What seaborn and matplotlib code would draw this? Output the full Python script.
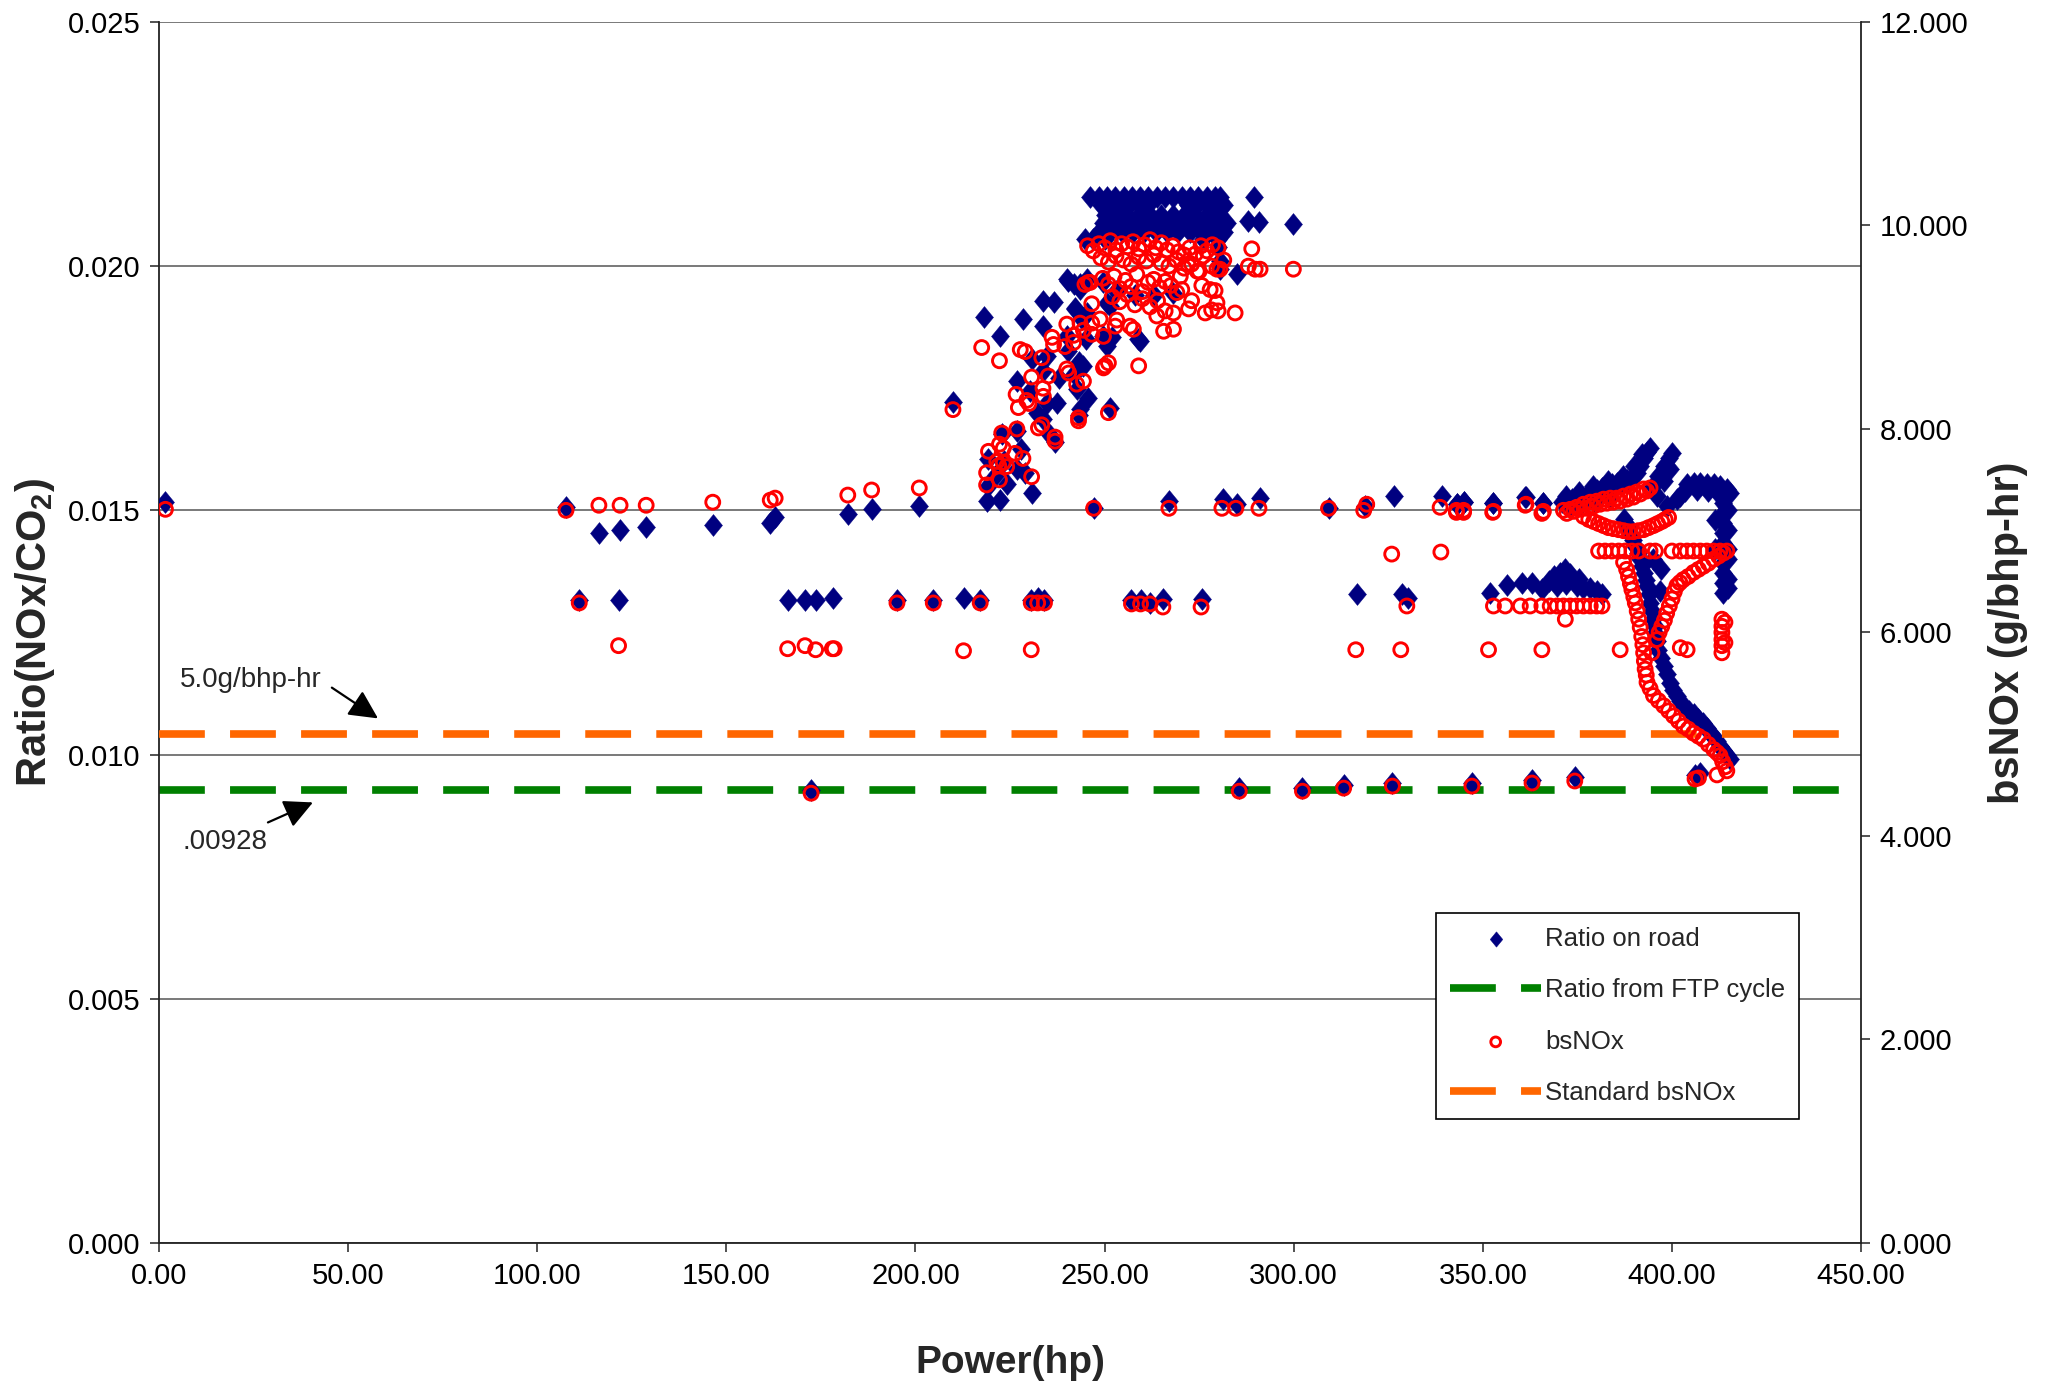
import numpy as np
import pandas as pd
import matplotlib
matplotlib.use("Agg")
import matplotlib.pyplot as plt
from matplotlib.path import Path
import seaborn as sns

# ---------------------------------------------------------------
# NOx/CO2 ratio measured on road (left axis), grouped by region
# (power in hp, ratio)
# ---------------------------------------------------------------
road_low = [
    (1.7, 0.01517), (107.6, 0.01507), (111.1, 0.01316), (116.3, 0.01454),
    (121.9, 0.01460), (121.5, 0.01316), (128.8, 0.01465), (146.4, 0.01470),
    (161.6, 0.01475), (162.9, 0.01487), (166.2, 0.01316), (170.8, 0.01316),
    (173.6, 0.01316), (178.3, 0.01321), (182.1, 0.01492), (188.4, 0.01502),
    (195.1, 0.01316), (201.0, 0.01508), (204.7, 0.01316), (209.9, 0.01722),
    (212.7, 0.01321), (217.1, 0.01316), (230.6, 0.01316), (232.3, 0.01321),
    (234.1, 0.01316), (257.1, 0.01316), (259.5, 0.01316), (262.0, 0.01311),
    (265.4, 0.01318), (275.7, 0.01318), (316.7, 0.01328), (328.6, 0.01328),
    (330.3, 0.01321),
]
road_line15 = [
    (247.1, 0.01505), (267.1, 0.01519), (281.4, 0.01523), (284.9, 0.01512),
    (291.1, 0.01526), (309.2, 0.01505), (318.9, 0.01508), (326.4, 0.01529),
    (339.2, 0.01529), (343.1, 0.01512), (344.9, 0.01517), (352.8, 0.01516),
    (361.2, 0.01527), (365.9, 0.01516),
]
road_near_ftp = [
    (172.4, 0.00928), (285.6, 0.00932), (302.3, 0.00931), (313.2, 0.00938),
    (326.1, 0.00942), (347.1, 0.00942), (363.0, 0.00948), (374.3, 0.00953),
    (406.1, 0.00958), (407.3, 0.00962),
]
road_rise = [
    (219.0, 0.01519), (222.4, 0.01522), (230.7, 0.01536), (219.3, 0.01550),
    (224.1, 0.01553), (219.3, 0.01605), (226.8, 0.01584), (229.0, 0.01577),
    (221.0, 0.01570), (223.5, 0.01600), (222.8, 0.01656), (226.8, 0.01663),
    (233.8, 0.01687), (236.9, 0.01639), (243.5, 0.01707), (251.5, 0.01710),
    (243.1, 0.01695), (226.8, 0.01765), (230.3, 0.01745), (233.8, 0.01786),
    (243.1, 0.01803), (244.4, 0.01796), (250.6, 0.01837), (259.4, 0.01847),
    (222.4, 0.01857), (218.0, 0.01895), (228.5, 0.01891), (233.8, 0.01878),
    (240.0, 0.01857), (244.0, 0.01891), (230.7, 0.01809), (234.7, 0.01816),
    (240.4, 0.01827), (233.8, 0.01929), (236.5, 0.01926), (242.2, 0.01912),
    (240.4, 0.01970), (243.5, 0.01963), (245.3, 0.01974), (249.7, 0.01967),
    (234.7, 0.01720), (237.4, 0.01720), (242.6, 0.01748), (241.8, 0.01780),
    (238.0, 0.01770), (245.7, 0.01730), (232.0, 0.01700), (235.5, 0.01655),
    (228.0, 0.01625), (245.0, 0.01850), (249.7, 0.01857), (251.9, 0.01854),
    (258.9, 0.01851), (250.6, 0.01925), (251.5, 0.01919), (245.3, 0.01905),
    (242.2, 0.01915), (253.0, 0.01950), (258.0, 0.01940), (263.0, 0.01940),
    (268.2, 0.01946), (240.0, 0.01973), (241.8, 0.01963), (243.5, 0.01953),
]
road_top = [
    # 0.0214 row
    (246.2, 0.02141), (248.4, 0.02141), (250.6, 0.02141), (252.8, 0.02141),
    (255.0, 0.02141), (257.2, 0.02141), (259.4, 0.02141), (261.6, 0.02141),
    (263.8, 0.02141), (266.0, 0.02141), (268.2, 0.02141), (270.4, 0.02141),
    (272.6, 0.02141), (274.8, 0.02141), (277.0, 0.02141), (279.2, 0.02141),
    (280.5, 0.02141), (289.4, 0.02141),
    # 0.0212 row
    (249.0, 0.02125), (251.5, 0.02125), (254.0, 0.02125), (256.5, 0.02125),
    (259.0, 0.02125), (261.5, 0.02125), (272.0, 0.02125), (274.5, 0.02125),
    (277.0, 0.02125), (279.5, 0.02125), (281.5, 0.02125),
    # 0.0210 row
    (250.0, 0.02105), (253.0, 0.02105), (256.0, 0.02105), (259.0, 0.02105),
    (262.0, 0.02105), (265.0, 0.02105), (268.0, 0.02105), (271.0, 0.02105),
    (274.0, 0.02105), (277.0, 0.02105), (280.0, 0.02105),
    # 0.0209 row
    (249.5, 0.02088), (252.5, 0.02088), (255.5, 0.02088), (258.5, 0.02088),
    (261.5, 0.02088), (264.5, 0.02088), (267.5, 0.02088), (270.5, 0.02088),
    (273.5, 0.02088), (276.5, 0.02088), (279.5, 0.02088), (282.3, 0.02088),
    (288.0, 0.02093), (290.7, 0.02090), (299.9, 0.02086),
    # 0.0207 row
    (248.5, 0.02070), (251.5, 0.02070), (254.5, 0.02070), (257.5, 0.02070),
    (260.5, 0.02070), (263.5, 0.02070), (266.5, 0.02070), (269.5, 0.02070),
    (272.5, 0.02070), (275.5, 0.02070), (278.5, 0.02070), (281.5, 0.02070),
    # lower edge of the block
    (244.8, 0.02055), (247.0, 0.02055), (250.0, 0.02055), (276.0, 0.02055),
    (280.0, 0.02055), (280.1, 0.02040), (280.5, 0.02010), (280.5, 0.01994),
    (284.9, 0.01984),
]
road_right = [
    # plateau rising to the first peak
    (343.1, 0.01512), (344.9, 0.01517), (352.8, 0.01516), (361.4, 0.01527),
    (366.0, 0.01516), (370.9, 0.01517), (372.2, 0.01519), (373.5, 0.01523),
    (374.8, 0.01525), (376.2, 0.01528), (377.5, 0.01532), (378.8, 0.01536),
    (380.1, 0.01542), (381.5, 0.01546), (382.8, 0.01550), (384.1, 0.01553),
    (385.4, 0.01555), (386.7, 0.01558), (388.1, 0.01562), (389.4, 0.01567),
    (390.7, 0.01576), (391.6, 0.01591), (392.5, 0.01608), (393.4, 0.01620),
    (394.1, 0.01628), (372.0, 0.01530), (375.5, 0.01537), (379.0, 0.01550),
    (383.0, 0.01560), (387.0, 0.01570), (390.0, 0.01590), (392.0, 0.01615),
    (373.0, 0.01509), (376.0, 0.01513), (379.5, 0.01520), (383.5, 0.01527),
    # second peak
    (395.1, 0.01550), (396.4, 0.01570), (397.8, 0.01591), (399.1, 0.01608),
    (400.0, 0.01618), (398.6, 0.01509), (401.3, 0.01523), (396.0, 0.01530),
    (398.0, 0.01560), (399.5, 0.01585),
    # plateau at 0.0155
    (402.2, 0.01529), (404.0, 0.01553), (405.7, 0.01557), (407.5, 0.01555),
    (409.2, 0.01553), (411.0, 0.01553), (412.7, 0.01550), (414.5, 0.01543),
    (415.4, 0.01536), (403.5, 0.01540), (406.5, 0.01542), (409.5, 0.01540),
    (412.0, 0.01538),
    # vertical band at full load
    (413.6, 0.01516), (413.6, 0.01495), (413.6, 0.01475), (413.6, 0.01454),
    (413.6, 0.01434), (413.6, 0.01413), (413.6, 0.01393), (413.6, 0.01372),
    (413.6, 0.01352), (413.6, 0.01331), (414.8, 0.01500), (414.8, 0.01460),
    (414.8, 0.01420), (414.8, 0.01400), (414.8, 0.01360), (414.8, 0.01340),
    (411.5, 0.01480), (411.5, 0.01420),
    # descending branch
    (387.2, 0.01482), (389.0, 0.01454), (390.3, 0.01427), (391.6, 0.01400),
    (392.5, 0.01372), (393.4, 0.01345), (394.2, 0.01311), (395.1, 0.01277),
    (395.6, 0.01249), (396.4, 0.01215), (397.8, 0.01181), (399.5, 0.01147),
    (401.3, 0.01120), (403.0, 0.01099), (405.7, 0.01082), (408.3, 0.01065),
    (410.1, 0.01044), (411.9, 0.01027), (413.6, 0.01010), (415.4, 0.00990),
    (388.4, 0.01468), (389.7, 0.01440), (391.0, 0.01413), (392.1, 0.01386),
    (393.0, 0.01358), (393.8, 0.01328), (394.7, 0.01294), (395.4, 0.01263),
    (396.0, 0.01232), (397.1, 0.01198), (398.6, 0.01164), (400.4, 0.01133),
    (402.2, 0.01110), (404.4, 0.01090), (407.0, 0.01073), (409.2, 0.01055),
    (411.0, 0.01036), (412.8, 0.01018), (414.5, 0.01000),
    (396.9, 0.01335), (395.0, 0.01400), (397.0, 0.01380),
    # cluster near 0.0134
    (351.9, 0.01331), (356.3, 0.01348), (360.3, 0.01352), (363.0, 0.01352),
    (365.6, 0.01338), (367.4, 0.01355), (368.7, 0.01365), (370.4, 0.01372),
    (371.8, 0.01379), (373.1, 0.01369), (374.8, 0.01345), (376.6, 0.01342),
    (378.4, 0.01342), (380.1, 0.01335), (381.5, 0.01328), (369.5, 0.01345),
    (372.0, 0.01350), (375.5, 0.01360),
]

# ---------------------------------------------------------------
# Brake-specific NOx (right axis, g/bhp-hr), grouped by region
# ---------------------------------------------------------------
bs_low = [
    (1.7, 7.21), (107.6, 7.20), (111.1, 6.29), (116.3, 7.25), (121.9, 7.25),
    (121.5, 5.87), (128.8, 7.25), (146.4, 7.28), (161.6, 7.30), (162.9, 7.32),
    (166.2, 5.84), (170.8, 5.87), (173.6, 5.83), (178.0, 5.84), (178.5, 5.84),
    (182.1, 7.35), (188.4, 7.40), (195.1, 6.29), (201.0, 7.42), (204.7, 6.29),
    (209.9, 8.19), (212.7, 5.82), (217.1, 6.29), (230.6, 6.29), (232.3, 6.29),
    (234.1, 6.29), (230.6, 5.83), (257.1, 6.28), (259.5, 6.28), (262.0, 6.28),
    (265.4, 6.25), (275.5, 6.25), (329.9, 6.26), (316.4, 5.83), (328.3, 5.83),
    (351.5, 5.83), (365.6, 5.83),
]
bs_line15 = [
    (247.1, 7.22), (267.0, 7.22), (281.0, 7.22), (284.7, 7.22), (290.8, 7.22),
    (309.2, 7.22), (318.5, 7.20), (319.3, 7.26), (325.9, 6.77), (338.7, 7.23),
    (338.9, 6.79), (343.0, 7.18), (344.9, 7.18), (352.6, 7.18), (361.2, 7.25),
    (365.6, 7.17),
]
bs_near_ftp = [
    (172.4, 4.42), (285.6, 4.44), (302.3, 4.44), (313.2, 4.47), (326.1, 4.49),
    (347.1, 4.49), (363.0, 4.52), (374.3, 4.54), (406.1, 4.56), (407.0, 4.57),
    (411.9, 4.60),
]
bs_rise = [
    (217.5, 8.80), (222.2, 8.67), (227.7, 8.78), (229.0, 8.76), (233.4, 8.70),
    (236.5, 8.83), (236.1, 8.90), (239.5, 8.81), (241.8, 8.92), (230.7, 8.51),
    (235.1, 8.52), (233.7, 8.40), (233.8, 8.32), (226.6, 8.34), (227.2, 8.21),
    (229.4, 8.28), (230.0, 8.25), (240.0, 8.59), (240.5, 8.55), (242.6, 8.44),
    (244.4, 8.47), (249.7, 8.60), (251.0, 8.65), (259.0, 8.62), (243.1, 8.11),
    (243.1, 8.08), (251.0, 8.16), (232.5, 8.01), (233.4, 8.04), (236.9, 7.92),
    (236.9, 7.88), (222.8, 7.96), (226.8, 8.00), (219.3, 7.78), (222.2, 7.85),
    (223.2, 7.81), (226.3, 7.76), (228.4, 7.71), (218.8, 7.57), (218.8, 7.45),
    (222.0, 7.64), (223.2, 7.67), (224.1, 7.63), (222.2, 7.50), (230.7, 7.53),
    (221.5, 7.68),
]
bs_upper = [
    (240.0, 9.03), (243.5, 9.04), (246.6, 9.04), (248.8, 9.08), (244.8, 9.42),
    (246.2, 9.44), (241.8, 8.85), (244.4, 8.97), (246.6, 8.93), (249.7, 8.91),
    (250.1, 8.62), (253.2, 9.07), (252.8, 9.01), (256.7, 9.01), (257.6, 8.98),
    (263.8, 9.11), (266.0, 9.16), (268.2, 9.14), (268.2, 8.98), (265.6, 8.96),
    (272.2, 9.18), (273.0, 9.26), (276.6, 9.14), (278.3, 9.17), (280.0, 9.16),
    (279.7, 9.24), (284.5, 9.14), (275.7, 9.41), (277.9, 9.37), (279.2, 9.36),
    (270.4, 9.37), (269.1, 9.34), (288.9, 9.77), (288.0, 9.60), (289.8, 9.57),
    (291.1, 9.57), (299.9, 9.57), (245.7, 9.44), (246.6, 9.23),
]
bs_top = [
    # band near 9.8
    (245.5, 9.80), (247.0, 9.75), (248.5, 9.82), (250.0, 9.78), (251.5, 9.85),
    (253.0, 9.76), (254.5, 9.82), (256.0, 9.79), (257.5, 9.84), (259.0, 9.77),
    (260.5, 9.81), (262.0, 9.86), (263.5, 9.78), (265.0, 9.83), (266.5, 9.76),
    (268.0, 9.80), (269.5, 9.74), (271.0, 9.71), (272.5, 9.78), (274.0, 9.72),
    (275.5, 9.80), (277.0, 9.75), (278.5, 9.81), (280.0, 9.78),
    # band near 9.65
    (249.0, 9.68), (251.0, 9.64), (253.0, 9.70), (255.0, 9.66), (257.0, 9.62),
    (259.0, 9.69), (261.0, 9.65), (263.0, 9.71), (265.0, 9.63), (267.0, 9.60),
    (269.0, 9.66), (271.0, 9.58), (273.0, 9.62), (275.0, 9.55),
    # band near 9.45
    (249.5, 9.48), (251.0, 9.42), (252.5, 9.50), (254.0, 9.38), (255.5, 9.46),
    (257.0, 9.40), (258.5, 9.52), (260.0, 9.35), (261.5, 9.44), (263.0, 9.47),
    (264.5, 9.39), (266.0, 9.45), (267.5, 9.41),
    (252.0, 9.30), (254.0, 9.25), (256.0, 9.32), (258.0, 9.22), (260.0, 9.28),
    (262.0, 9.20), (264.0, 9.26),
    # right edge of the block
    (272.0, 9.62), (274.5, 9.55), (276.1, 9.70), (278.3, 9.60), (279.7, 9.57),
    (280.5, 9.57), (281.5, 9.66), (270.0, 9.50),
]
bs_right = [
    # upper branch
    (343.0, 7.20), (344.9, 7.20), (352.8, 7.19), (361.4, 7.26), (366.0, 7.19),
    (371.3, 7.20), (373.1, 7.21), (374.8, 7.23), (376.6, 7.26), (378.4, 7.28),
    (380.1, 7.29), (381.9, 7.31), (383.7, 7.32), (385.4, 7.32), (387.2, 7.34),
    (389.0, 7.36), (390.7, 7.38), (392.5, 7.41), (394.2, 7.42),
    (372.2, 7.17), (374.0, 7.19), (375.7, 7.21), (377.5, 7.22), (379.2, 7.24),
    (381.0, 7.26), (382.8, 7.27), (384.5, 7.28), (386.3, 7.29), (388.1, 7.31),
    (389.8, 7.33), (391.6, 7.36), (393.3, 7.39),
    # lower branch of the loop
    (376.6, 7.14), (379.3, 7.09), (381.9, 7.05), (384.5, 7.02), (387.2, 7.00),
    (389.8, 6.99), (392.5, 7.01), (395.1, 7.05), (397.3, 7.09), (399.1, 7.13),
    (378.0, 7.11), (380.6, 7.07), (383.2, 7.03), (385.9, 7.01), (388.5, 6.99),
    (391.1, 7.00), (393.8, 7.03), (396.2, 7.07), (398.2, 7.11),
    # row near 6.8
    (380.6, 6.80), (382.3, 6.80), (384.1, 6.80), (385.9, 6.80), (387.6, 6.80),
    (389.4, 6.80), (391.2, 6.80), (394.2, 6.80), (395.6, 6.80), (400.0, 6.80),
    (402.2, 6.80), (404.0, 6.80), (405.7, 6.80), (407.5, 6.80), (409.2, 6.80),
    (411.0, 6.80), (412.7, 6.80), (414.5, 6.80),
    # descending band
    (387.2, 6.69), (388.5, 6.55), (389.4, 6.42), (390.3, 6.29), (391.2, 6.13),
    (392.0, 5.96), (392.5, 5.80), (392.9, 5.64), (393.4, 5.51), (395.1, 5.38),
    (397.8, 5.28), (400.4, 5.18), (403.0, 5.08), (405.7, 5.01), (408.3, 4.95),
    (411.0, 4.85), (412.7, 4.79), (414.1, 4.68), (414.5, 4.64),
    (388.0, 6.62), (389.0, 6.48), (389.9, 6.35), (390.8, 6.21), (391.6, 6.05),
    (392.3, 5.88), (392.7, 5.72), (393.2, 5.58), (394.2, 5.45), (396.4, 5.33),
    (399.1, 5.23), (401.7, 5.13), (404.3, 5.05), (407.0, 4.98), (409.6, 4.90),
    (411.9, 4.82), (413.4, 4.73),
    # right branch of the fork
    (413.6, 6.78), (411.0, 6.72), (408.3, 6.65), (405.7, 6.59), (403.0, 6.52),
    (401.3, 6.46), (400.0, 6.33), (398.6, 6.19), (397.3, 6.06), (396.0, 5.93),
    (394.7, 5.80), (412.3, 6.75), (409.6, 6.68), (407.0, 6.62), (404.3, 6.55),
    (402.1, 6.49), (400.6, 6.40), (399.3, 6.26), (398.0, 6.12), (396.6, 6.00),
    # block at full load
    (413.2, 6.13), (413.2, 6.06), (413.2, 6.00), (413.2, 5.93), (413.2, 5.87),
    (413.2, 5.80), (414.0, 6.10), (414.0, 5.90),
    # row near 6.26
    (352.8, 6.26), (355.9, 6.26), (359.9, 6.26), (362.5, 6.26), (365.6, 6.26),
    (367.8, 6.26), (369.6, 6.26), (371.3, 6.26), (373.1, 6.26), (374.8, 6.26),
    (376.6, 6.26), (378.4, 6.26), (380.1, 6.26), (381.5, 6.26), (371.8, 6.13),
    # scattered near 5.83
    (386.3, 5.83), (402.2, 5.85), (404.0, 5.83),
]

# Reference levels
ftp_ratio = 0.00928          # ratio from FTP cycle
standard_bsnox = 5.0         # g/bhp-hr

# Axis ranges / ticks
x_ticks = np.arange(0, 451, 50)
ratio_ticks = np.arange(0, 0.0251, 0.005)
bsnox_ticks = np.arange(0, 12.1, 2)

# Annotation positions (power, ratio)
std_text_pos = (5.6, 0.01152)
std_arrow_tail = (45.7, 0.01137)
std_arrow_head = (57.9, 0.01074)
ftp_text_pos = (6.1, 0.00820)
ftp_arrow_tail = (28.8, 0.00861)
ftp_arrow_head = (40.7, 0.00902)

# ---------------------------------------------------------------
road = pd.DataFrame(road_low + road_line15 + road_near_ftp + road_rise
                    + road_top + road_right, columns=["power", "ratio"])
bs = pd.DataFrame(bs_low + bs_line15 + bs_near_ftp + bs_rise + bs_upper
                  + bs_top + bs_right, columns=["power", "bsnox"])

sns.set_style("white")
plt.rcParams["font.family"] = ["Liberation Sans", "DejaVu Sans"]
plt.rcParams["mathtext.default"] = "regular"

fig = plt.figure(figsize=(20.49, 13.88), dpi=100)
ax = fig.add_axes([0.0776, 0.1045, 0.8307, 0.8797])
ax2 = ax.twinx()

navy = "#000080"
diamond = Path([(0, 1), (0.82, 0), (0, -1), (-0.82, 0), (0, 1)],
               [Path.MOVETO, Path.LINETO, Path.LINETO, Path.LINETO,
                Path.CLOSEPOLY])

sns.scatterplot(data=road, x="power", y="ratio", ax=ax, marker=diamond,
                s=250, color=navy, edgecolor=navy, linewidth=0.3,
                label="Ratio on road", zorder=3)
ax.axhline(ftp_ratio, color="#008000", lw=5.5, dashes=(6, 3.3),
           label="Ratio from FTP cycle", zorder=2)

sns.scatterplot(data=bs, x="power", y="bsnox", ax=ax2, marker="o", s=100,
                color="red", facecolor="none", edgecolor="red",
                linewidth=2.1, label="bsNOx", zorder=3)
ax2.axhline(standard_bsnox, color="#FF6600", lw=5.5, dashes=(6, 3.3),
            label="Standard bsNOx", zorder=2)

# axes ranges and ticks
ax.set_xlim(0, 450)
ax.set_ylim(0, 0.025)
ax2.set_ylim(0, 12)
ax.set_xticks(x_ticks)
ax.set_xticklabels([f"{v:.2f}" for v in x_ticks])
ax.set_yticks(ratio_ticks)
ax.set_yticklabels([f"{v:.3f}" for v in ratio_ticks])
ax2.set_yticks(bsnox_ticks)
ax2.set_yticklabels([f"{v:.3f}" for v in bsnox_ticks])

tick_fs = 21
for a in (ax, ax2):
    a.tick_params(axis="both", which="major", direction="out", length=6.5,
                  width=1.1, color="#222222", labelsize=tick_fs, pad=7,
                  labelcolor="black")
ax.tick_params(axis="y", left=True, right=False)
ax.tick_params(axis="x", bottom=True)
ax2.tick_params(axis="y", right=True, left=False)

ax.yaxis.grid(True, color="#555555", lw=1.1, zorder=0)
ax.xaxis.grid(False)
ax2.grid(False)
ax.set_axisbelow(True)

for a in (ax, ax2):
    a.spines["top"].set_visible(False)
    for side in ("left", "right", "bottom"):
        a.spines[side].set_color("#222222")
        a.spines[side].set_linewidth(1.3)
ax.spines["right"].set_visible(False)
ax2.spines["left"].set_visible(False)
ax2.spines["bottom"].set_visible(False)

lab_fs = 30
ax.set_xlabel("Power(hp)", fontsize=28, fontweight="bold", labelpad=40)
ax.set_ylabel("Ratio(NOx/CO$_2$)", fontsize=lab_fs, fontweight="bold",
              labelpad=7.5)
ax2.set_ylabel("bsNOx (g/bhp-hr)", fontsize=lab_fs, fontweight="bold",
               labelpad=14, rotation=90)

# annotations for the two reference lines
arrow_kw = dict(arrowstyle="-|>,head_length=1.1,head_width=0.55",
                color="black", lw=1.6, mutation_scale=16,
                shrinkA=0, shrinkB=0)
ax.text(*std_text_pos, "5.0g/bhp-hr", fontsize=20, va="center", ha="left")
ax.annotate("", xy=std_arrow_head, xytext=std_arrow_tail,
            arrowprops=arrow_kw)
ax.text(*ftp_text_pos, ".00928", fontsize=20, va="center", ha="left")
ax.annotate("", xy=ftp_arrow_head, xytext=ftp_arrow_tail,
            arrowprops=arrow_kw)

# combined legend
h1, l1 = ax.get_legend_handles_labels()
h2, l2 = ax2.get_legend_handles_labels()
if ax.get_legend() is not None:
    ax.get_legend().remove()
leg = ax2.legend([h1[0], h1[1], h2[0], h2[1]], [l1[0], l1[1], l2[0], l2[1]],
                 loc="upper left", bbox_to_anchor=(0.7008, 0.3422),
                 bbox_transform=fig.transFigure, borderaxespad=0,
                 fontsize=18.5, frameon=True, fancybox=False, framealpha=1,
                 edgecolor="black", handlelength=3.55, handletextpad=0.15,
                 labelspacing=1.06, borderpad=0.55, markerscale=0.7)
leg.get_frame().set_linewidth(1.2)

fig.savefig("out.png", dpi=100, facecolor="white")
